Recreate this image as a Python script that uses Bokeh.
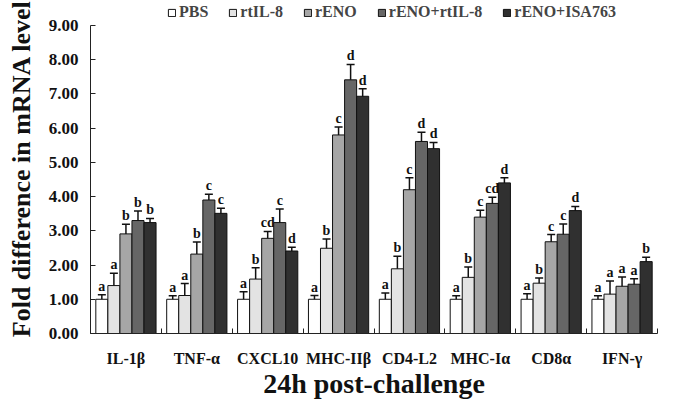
import numpy as np
from bokeh.plotting import figure
from bokeh.models import (ColumnDataSource, Whisker, TeeHead, FixedTicker, Legend, LegendItem,
                          NumeralTickFormatter, Range1d)
from bokeh.core.properties import value
from bokeh.transform import dodge
from bokeh.embed import file_html
from bokeh.resources import INLINE

genes = ["IL-1β", "TNF-α", "CXCL10", "MHC-IIβ", "CD4-L2", "MHC-Iα", "CD8α", "IFN-γ"]
series = ["PBS", "rtIL-8", "rENO", "rENO+rtIL-8", "rENO+ISA763"]

pbs = [1.00, 1.00, 1.00, 1.00, 1.00, 1.00, 1.00, 1.00]
pbs_err = [0.13, 0.10, 0.22, 0.11, 0.18, 0.10, 0.16, 0.10]
pbs_sig = ["a", "a", "a", "a", "a", "a", "a", "a"]

rtil8 = [1.40, 1.11, 1.59, 2.49, 1.89, 1.64, 1.47, 1.15]
rtil8_err = [0.36, 0.35, 0.33, 0.27, 0.37, 0.30, 0.15, 0.38]
rtil8_sig = ["a", "a", "b", "b", "b", "b", "b", "a"]

reno = [2.91, 2.32, 2.78, 5.80, 4.20, 3.40, 2.68, 1.38]
reno_err = [0.28, 0.35, 0.20, 0.23, 0.35, 0.20, 0.21, 0.27]
reno_sig = ["b", "b", "cd", "c", "c", "c", "c", "a"]

reno_rtil8 = [3.30, 3.90, 3.24, 7.41, 5.61, 3.80, 2.90, 1.44]
reno_rtil8_err = [0.28, 0.17, 0.40, 0.45, 0.27, 0.18, 0.30, 0.16]
reno_rtil8_sig = ["b", "c", "c", "d", "d", "cd", "c", "a"]

reno_isa = [3.24, 3.51, 2.41, 6.93, 5.40, 4.40, 3.59, 2.10]
reno_isa_err = [0.12, 0.15, 0.11, 0.22, 0.18, 0.15, 0.12, 0.13]
reno_isa_sig = ["b", "c", "d", "d", "d", "d", "d", "b"]

y_ticks = [0, 1, 2, 3, 4, 5, 6, 7, 8, 9]
y_axis_bounds = (0, 9)

colors = ["#ffffff", "#e3e3e3", "#a6a6a6", "#666666", "#303030"]
all_vals = [pbs, rtil8, reno, reno_rtil8, reno_isa]
all_errs = [pbs_err, rtil8_err, reno_err, reno_rtil8_err, reno_isa_err]
all_sigs = [pbs_sig, rtil8_sig, reno_sig, reno_rtil8_sig, reno_isa_sig]

SERIF = "Liberation Serif"
bw = 0.17
centers = [i + 0.5 for i in range(len(genes))]
FH = 330

p = figure(frame_width=567, frame_height=FH, x_range=Range1d(0, len(genes)), y_range=Range1d(0, 9.64),
           output_backend="svg", toolbar_location=None,
           min_border_left=90, min_border_right=2, min_border_top=3, min_border_bottom=40)

items = []
for j, (name, vals, errs, sigs, col) in enumerate(zip(series, all_vals, all_errs, all_sigs, colors)):
    off = (j - 2) * bw
    src = ColumnDataSource(dict(
        x=centers, top=vals,
        upper=[v + e for v, e in zip(vals, errs)],
        lower=[v - e for v, e in zip(vals, errs)],
        sig=sigs))
    r = p.vbar(x=dodge("x", off), top="top", width=bw, bottom=0, source=src,
               fill_color=col, line_color="#111111", line_width=1)
    w = Whisker(source=src, base=dodge("x", off), upper="upper", lower="lower",
                line_color="#111111", line_width=1.5,
                upper_head=TeeHead(size=8, line_width=1.5, line_color="#111111"),
                lower_head=TeeHead(size=8, line_width=1.5, line_color="#111111"))
    p.add_layout(w)
    p.text(x=dodge("x", off), y="upper", text="sig", source=src,
           text_font=value(SERIF), text_font_style="bold", text_font_size="14px",
           text_align="center", text_baseline="bottom", y_offset=-1, text_color="#111111")
    items.append(LegendItem(label=name, renderers=[r]))

legend = Legend(items=items, orientation="horizontal", location=(77, FH - 18),
                label_text_font=SERIF, label_text_font_style="bold", label_text_font_size="16px",
                glyph_width=9, glyph_height=9, label_standoff=3, spacing=20,
                padding=0, margin=0, label_height=16,
                background_fill_alpha=0, border_line_alpha=0)
p.add_layout(legend)

p.xgrid.visible = False
p.ygrid.visible = False
p.outline_line_color = None

xa = p.xaxis[0]
xa.ticker = FixedTicker(ticks=centers, minor_ticks=list(range(len(genes) + 1)))
xa.major_label_overrides = {c: g for c, g in zip(centers, genes)}
xa.major_tick_in = 0
xa.major_tick_out = 0
xa.minor_tick_in = 5
xa.minor_tick_out = 0
xa.axis_line_color = "#222222"
xa.minor_tick_line_color = "#222222"
xa.major_label_standoff = 16
xa.major_label_text_font = SERIF
xa.major_label_text_font_style = "bold"
xa.major_label_text_font_size = "16px"
xa.major_label_text_color = "#111111"
xa.axis_label = "24h post-challenge"
xa.axis_label_text_font = SERIF
xa.axis_label_text_font_style = "bold"
xa.axis_label_text_font_size = "28px"
xa.axis_label_text_color = "#111111"
xa.axis_label_standoff = -2

ya = p.yaxis[0]
ya.bounds = y_axis_bounds
ya.ticker = FixedTicker(ticks=y_ticks)
ya.formatter = NumeralTickFormatter(format="0.00")
ya.major_tick_in = 5
ya.major_tick_out = 0
ya.minor_tick_line_color = None
ya.axis_line_color = "#222222"
ya.major_tick_line_color = "#222222"
ya.major_label_standoff = 12
ya.major_label_text_font = SERIF
ya.major_label_text_font_style = "bold"
ya.major_label_text_font_size = "17px"
ya.major_label_text_color = "#111111"
ya.axis_label = "Fold difference in mRNA level"
ya.axis_label_text_font = SERIF
ya.axis_label_text_font_style = "bold"
ya.axis_label_text_font_size = "26px"
ya.axis_label_text_color = "#111111"
ya.axis_label_standoff = 10

open("out.html", "w").write(file_html(p, INLINE))
